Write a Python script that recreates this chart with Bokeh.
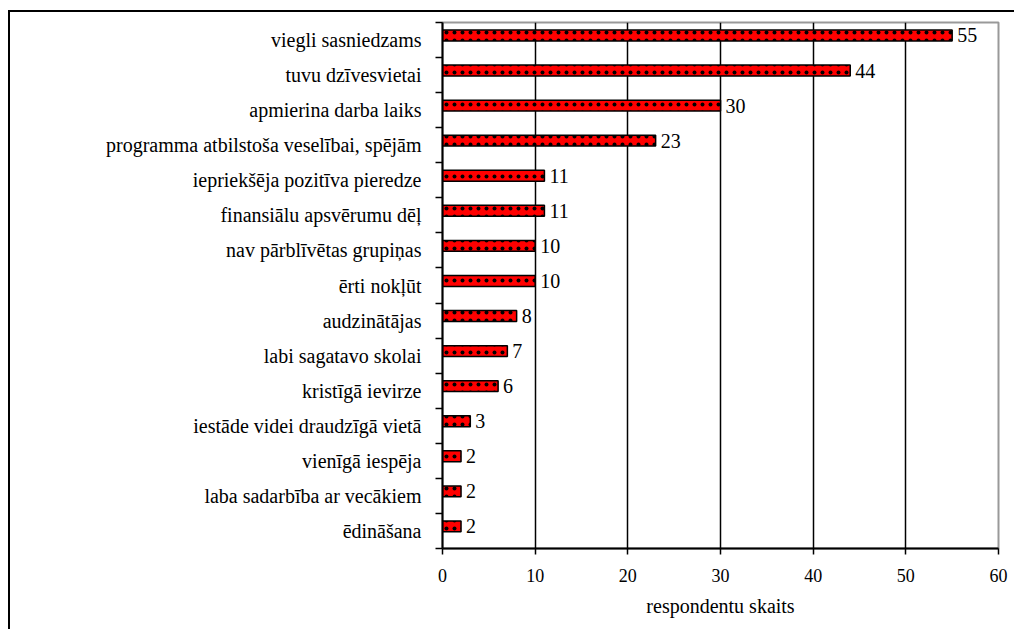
from bokeh.plotting import figure
from bokeh.models import ColumnDataSource, FixedTicker, LabelSet
from bokeh.embed import file_html
from bokeh.resources import INLINE

categories = [
    "viegli sasniedzams",
    "tuvu dzīvesvietai",
    "apmierina darba laiks",
    "programma atbilstoša veselībai, spējām",
    "iepriekšēja pozitīva pieredze",
    "finansiālu apsvērumu dēļ",
    "nav pārblīvētas grupiņas",
    "ērti nokļūt",
    "audzinātājas",
    "labi sagatavo skolai",
    "kristīgā ievirze",
    "iestāde videi draudzīgā vietā",
    "vienīgā iespēja",
    "laba sadarbība ar vecākiem",
    "ēdināšana",
]
values = [55, 44, 30, 23, 11, 11, 10, 10, 8, 7, 6, 3, 2, 2, 2]
x_ticks = [0, 10, 20, 30, 40, 50, 60]

n = len(categories)
centers = [i + 0.5 for i in range(n)]
bar_y = [c - 0.13 for c in centers]
src = ColumnDataSource(dict(y=bar_y, v=values, lab=[str(v) for v in values]))

FONT = "Liberation Serif"

p = figure(width=1006, height=619, x_range=(0, 60), y_range=(n, 0),
           output_backend="svg", toolbar_location=None,
           min_border_left=432, min_border_right=18, min_border_top=10, min_border_bottom=83)
p.styles = {"margin-top": "10px", "margin-left": "8px",
            "border-top": "2px solid black", "border-left": "2px solid black"}

p.hbar(y="y", right="v", left=0, height=0.31, source=src,
       fill_color="#ff0000", line_color="black", line_width=1.5,
       hatch_pattern="dot", hatch_color="black", hatch_scale=8, hatch_weight=3.5)

labels = LabelSet(x="v", y="y", text="lab", source=src, x_offset=5, y_offset=0,
                  text_baseline="middle", text_font=FONT, text_font_size="20px",
                  text_color="black")
p.add_layout(labels)

p.outline_line_color = "#999999"
p.outline_line_width = 2

p.xgrid.ticker = FixedTicker(ticks=x_ticks)
p.xgrid.grid_line_color = "black"
p.xgrid.grid_line_width = 1.5
p.ygrid.grid_line_color = None

p.xaxis.ticker = FixedTicker(ticks=x_ticks)
p.xaxis.axis_line_color = "black"
p.xaxis.axis_line_width = 2
p.xaxis.major_tick_out = 6
p.xaxis.major_tick_in = 0
p.xaxis.major_tick_line_color = "black"
p.xaxis.major_tick_line_width = 1.5
p.xaxis.minor_tick_line_color = None
p.xaxis.major_label_standoff = 14
p.xaxis.major_label_text_font = FONT
p.xaxis.major_label_text_font_size = "18px"
p.xaxis.major_label_text_color = "black"
p.xaxis.axis_label = "respondentu skaits"
p.xaxis.axis_label_text_font = FONT
p.xaxis.axis_label_text_font_size = "20px"
p.xaxis.axis_label_text_font_style = "normal"
p.xaxis.axis_label_text_color = "black"
p.xaxis.axis_label_standoff = 10

p.yaxis.ticker = FixedTicker(ticks=centers, minor_ticks=list(range(n + 1)))
p.yaxis.major_label_overrides = {c: name for c, name in zip(centers, categories)}
p.yaxis.axis_line_color = "black"
p.yaxis.axis_line_width = 2
p.yaxis.major_tick_line_color = None
p.yaxis.major_tick_out = 0
p.yaxis.major_tick_in = 0
p.yaxis.minor_tick_out = 7
p.yaxis.minor_tick_in = 0
p.yaxis.minor_tick_line_color = "black"
p.yaxis.minor_tick_line_width = 1.5
p.yaxis.major_label_standoff = 14
p.yaxis.major_label_text_font = FONT
p.yaxis.major_label_text_font_size = "20px"
p.yaxis.major_label_text_color = "black"

open("out.html", "w").write(file_html(p, INLINE))
